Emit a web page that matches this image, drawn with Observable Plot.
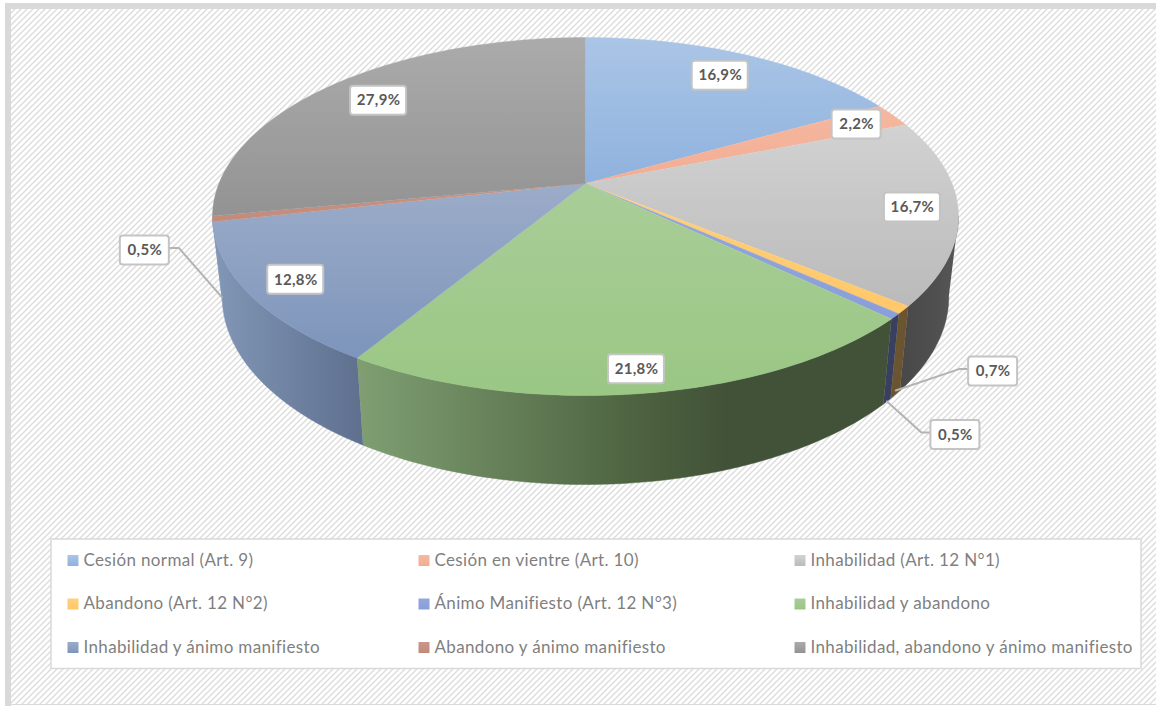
<!DOCTYPE html>
<html lang="es">
<head>
<meta charset="utf-8">
<title>Pie</title>
<script src="https://cdn.jsdelivr.net/npm/d3@7"></script>
<script src="https://cdn.jsdelivr.net/npm/@observablehq/plot@0.6"></script>
<style>html,body{margin:0;padding:0;background:#fff;overflow:hidden}svg{display:block}svg text{font-variant-ligatures:none;letter-spacing:.35px}</style>
</head>
<body>
<div id="chart"></div>
<script>
// ---- data ----
const categories = [
  "Cesión normal (Art. 9)", "Cesión en vientre (Art. 10)", "Inhabilidad (Art. 12 N°1)",
  "Abandono (Art. 12 N°2)", "Ánimo Manifiesto (Art. 12 N°3)", "Inhabilidad y abandono",
  "Inhabilidad y ánimo manifiesto", "Abandono y ánimo manifiesto", "Inhabilidad, abandono y ánimo manifiesto"
];
const values = [16.9, 2.2, 16.7, 0.7, 0.5, 21.8, 12.8, 0.5, 27.9];
const valueLabels = ["16,9%", "2,2%", "16,7%", "0,7%", "0,5%", "21,8%", "12,8%", "0,5%", "27,9%"];

// ---- styles ----
const topStops = [
  ["#aac5e6", "#8fb2de"], ["#f5b8a0", "#f2ad92"], ["#d2d2d2", "#bababa"],
  ["#ffd07c", "#ffc869"], ["#93a6dc", "#8a9fd9"], ["#a9cd98", "#9ac784"],
  ["#9cacc9", "#7d95bb"], ["#c9968a", "#c28a78"], ["#ababab", "#939393"]
];
const sideStops = [
  [[0, "#5a6f8f"], [1, "#4a5f7f"]], [[0, "#8a5a48"], [1, "#8a5a48"]],
  [[0, "#484848"], [0.6, "#4f4f4f"], [1, "#585858"]],
  [[0, "#6b5430"], [1, "#6b5430"]], [[0, "#39405f"], [1, "#39405f"]],
  [[0, "#7f9f72"], [0.54, "#4c613f"], [0.69, "#425238"], [1, "#425238"]],
  [[0, "#8296b6"], [1, "#5e708e"]], [[0, "#8498b7"], [1, "#8498b7"]],
  [[0, "#6a6a6a"], [1, "#5a5a5a"]]
];

// ---- view geometry of the tilted disc ----
const W = 1156, H = 706;
const view = {cx: 585, cy: 183, a: 366.6, b: 172.9, p: 0.1844, xShrink: 0.974, yGrow: 1.05, yShift: 69.25};
function project(theta, r = 1, t = 0) {
  const u = r * Math.sin(theta), v = -r * Math.cos(theta), w = 1 - view.p * v;
  const dx = view.a * u / w, y = view.cy + view.b * v / w;
  return {
    x: view.cx + dx * (1 - (1 - view.xShrink) * t),
    y: y + t * (view.yGrow * y + view.yShift - y)
  };
}

const total = d3.sum(values);
const cum = [0]; values.forEach(v => cum.push(cum[cum.length - 1] + v));
const angle = c => c / total * 2 * Math.PI;
const arcAngles = i => d3.range(0, 61).map(k => angle(cum[i] + (cum[i + 1] - cum[i]) * k / 60));
const midAngle = i => angle((cum[i] + cum[i + 1]) / 2);

// only the part of the rim that faces the viewer has a visible side wall
const rimFrom = Math.acos(-view.p), rimTo = 2 * Math.PI - rimFrom;
const sideAngles = i => {
  const a = Math.max(angle(cum[i]), rimFrom), b = Math.min(angle(cum[i + 1]), rimTo);
  return b > a ? d3.range(0, 61).map(k => a + (b - a) * k / 60) : [];
};

const topFaces = categories.flatMap((name, i) => [
  {name, ...project(0, 0)},
  ...arcAngles(i).map(th => ({name, ...project(th)}))
]);
const sideFace = i => [
  ...sideAngles(i).map(th => project(th, 1, 0)),
  ...sideAngles(i).reverse().map(th => project(th, 1, 1))
];
const sideOrder = d3.range(categories.length).filter(i => sideAngles(i).length);

// ---- label placement: radial position inside the disc, or offset callout ----
const inside = [
  {i: 0, r: 0.80, dx: 3, dy: -2}, {i: 1, r: 0.87, dx: 1, dy: 1}, {i: 2, r: 0.88, dx: 0, dy: 0},
  {i: 5, r: 0.90, dx: -1, dy: 1}, {i: 6, r: 0.875, dx: -1, dy: 0}, {i: 8, r: 0.80, dx: -1, dy: -2}
];
const callouts = [
  {i: 3, t: 0.95, dx: 97.4, dy: -18.9, side: -1},
  {i: 4, t: 1, dx: 68.4, dy: 33.6, side: -1},
  {i: 7, t: 0.98, dx: -77.2, dy: -46.9, side: 1}
];
const boxes = [
  ...inside.map(o => {
    const c = project(midAngle(o.i), o.r);
    return {label: valueLabels[o.i], cx: c.x + o.dx, cy: c.y + o.dy};
  }),
  ...callouts.map(o => {
    const c = project(midAngle(o.i), 1, o.t);
    return {label: valueLabels[o.i], cx: c.x + o.dx, cy: c.y + o.dy};
  })
].map(b => ({...b, w: b.label.length > 4 ? 56 : 49, h: 29}));
const leaders = callouts.flatMap(o => {
  const c = project(midAngle(o.i), 1, o.t), bx = c.x + o.dx, by = c.y + o.dy;
  return [
    {id: o.i, x: c.x, y: c.y},
    {id: o.i, x: bx + o.side * 34, y: by - 2.5},
    {id: o.i, x: bx + o.side * 25, y: by - 2.5}
  ];
});

// ---- legend layout ----
const legendCols = [67, 418, 794], legendRows = [560, 603.5, 647];
const legendItems = categories.map((name, i) => ({
  name, x: legendCols[i % 3] + 5.5, y: legendRows[Math.floor(i / 3)], tx: legendCols[i % 3] + 16
}));

// ---- gradients / hatch ----
const defs = d3.create("svg:defs");
const pat = defs.append("pattern").attr("id", "hatch").attr("width", 6).attr("height", 6).attr("patternUnits", "userSpaceOnUse");
pat.append("rect").attr("width", 6).attr("height", 6).attr("fill", "#fff");
pat.append("path").attr("d", "M-1,1L1,-1M0,6L6,0M5,7L7,5").attr("stroke", "#dcdcdc").attr("stroke-width", 1.4);
topStops.forEach((s, i) => {
  const g = defs.append("linearGradient").attr("id", `top${i}`).attr("x1", 0).attr("y1", 0).attr("x2", 0).attr("y2", 1);
  s.forEach((c, k) => g.append("stop").attr("offset", k).attr("stop-color", c));
});
sideStops.forEach((s, i) => {
  const g = defs.append("linearGradient").attr("id", `side${i}`).attr("x1", 0).attr("y1", 0).attr("x2", 1).attr("y2", 0);
  s.forEach(([o, c]) => g.append("stop").attr("offset", o).attr("stop-color", c));
});

const chart = Plot.plot({
  width: W, height: H, margin: 0,
  x: {domain: [0, W], range: [0, W], axis: null},
  y: {domain: [0, H], range: [0, H], axis: null},
  color: {domain: categories, range: topStops.map((_, i) => `url(#top${i})`)},
  style: {fontFamily: "Lato, sans-serif", background: "transparent"},
  marks: [
    () => defs.node(),
    // background and frame
    Plot.rect([{x1: 11, x2: W, y1: 9, y2: 704}], {x1: "x1", x2: "x2", y1: "y1", y2: "y2", fill: "url(#hatch)"}),
    Plot.rect([{x1: 5, x2: 11, y1: 3, y2: H}, {x1: 5, x2: W, y1: 3, y2: 9}, {x1: 11, x2: W, y1: 704, y2: 705}],
      {x1: "x1", x2: "x2", y1: "y1", y2: "y2", fill: "#d9d9d9"}),
    // sides
    ...sideOrder.map(i => Plot.line(sideFace(i), {x: "x", y: "y", fill: `url(#side${i})`, stroke: `url(#side${i})`, strokeWidth: 0.5})),
    // top faces
    Plot.line(topFaces, {x: "x", y: "y", z: "name", fill: "name", stroke: "name", strokeWidth: 0.4}),
    // callout leaders
    Plot.line(leaders, {x: "x", y: "y", z: "id", stroke: "#b3b3b3", strokeWidth: 2}),
    // value labels
    Plot.rect(boxes, {
      x1: d => d.cx - d.w / 2, x2: d => d.cx + d.w / 2, y1: d => d.cy - d.h / 2, y2: d => d.cy + d.h / 2,
      fill: "#fff", stroke: "#c4c4c4", strokeWidth: 2, rx: 3
    }),
    Plot.text(boxes, {x: "cx", y: "cy", text: "label", fill: "#595959", fontSize: 15, fontWeight: 700}),
    // legend
    Plot.rect([{x1: 51, x2: 1141, y1: 539, y2: 668.5}], {x1: "x1", x2: "x2", y1: "y1", y2: "y2", fill: "#fff", stroke: "#d9d9d9", strokeWidth: 1.5}),
    Plot.dot(legendItems, {x: "x", y: "y", fill: "name", symbol: "square", r: 6.2}),
    Plot.text(legendItems, {x: "tx", y: "y", text: "name", textAnchor: "start", fill: "#7f7f7f", fontSize: 17})
  ]
});
document.getElementById("chart").append(chart);
</script>
</body>
</html>
